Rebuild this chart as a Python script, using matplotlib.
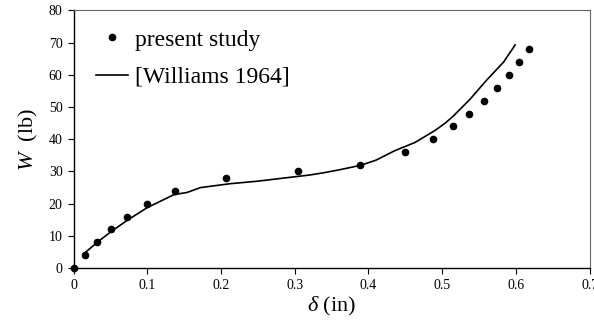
import matplotlib.pyplot as plt

plt.rcParams["font.family"] = ["Liberation Serif", "DejaVu Serif"]
plt.rcParams["mathtext.fontset"] = "custom"
plt.rcParams["mathtext.it"] = "Liberation Serif:italic"
plt.rcParams["mathtext.rm"] = "Liberation Serif"

# present study (points)
study_x = [0.0, 0.015, 0.032, 0.051, 0.073, 0.100, 0.138, 0.207, 0.304, 0.389,
           0.450, 0.487, 0.514, 0.537, 0.557, 0.574, 0.590, 0.604, 0.618]
study_w = [0, 4, 8, 12, 16, 20, 24, 28, 30, 32,
           36, 40, 44, 48, 52, 56, 60, 64, 68]

# Williams 1964 (line)
will_x = [0.014, 0.032, 0.050, 0.073, 0.100, 0.136, 0.154, 0.172, 0.212, 0.250,
          0.294, 0.320, 0.339, 0.360, 0.389, 0.410, 0.436, 0.463, 0.490, 0.504,
          0.515, 0.538, 0.560, 0.583, 0.599]
will_w = [4.5, 8.0, 11.2, 14.9, 18.8, 22.8, 23.5, 25.0, 26.2, 27.0,
          28.2, 28.9, 29.6, 30.5, 31.9, 33.5, 36.5, 39.0, 42.7, 45.0,
          47.2, 52.5, 58.3, 63.9, 69.3]

fig = plt.figure(figsize=(5.94, 3.23), dpi=100)
ax = fig.add_axes([0.124, 0.170, 0.8686, 0.7975])

ax.plot(study_x, study_w, "o", color="black", markersize=4.5,
        label="present study", clip_on=False, zorder=3)
ax.plot(will_x, will_w, "-", color="black", linewidth=1.2,
        label="[Williams 1964]")

ax.set_xlim(0, 0.7)
ax.set_ylim(0, 80)
ax.set_xticks([0, 0.1, 0.2, 0.3, 0.4, 0.5, 0.6, 0.7])
ax.set_xticklabels(["0", "0.1", "0.2", "0.3", "0.4", "0.5", "0.6", "0.7"])
ax.set_yticks(range(0, 81, 10))
ax.tick_params(direction="out", length=4, width=0.8, labelsize=10, pad=4)

for side in ["top", "right"]:
    ax.spines[side].set_color("#666666")
    ax.spines[side].set_linewidth(0.8)
for side in ["left", "bottom"]:
    ax.spines[side].set_color("black")
    ax.spines[side].set_linewidth(1.0)

ax.set_xlabel(r"$\delta$ (in)", fontsize=16, labelpad=2)
ax.set_ylabel(r"$W$  (lb)", fontsize=16, labelpad=6)

ax.legend(loc="upper left", bbox_to_anchor=(0.043, 0.928), frameon=False,
          fontsize=17, handlelength=1.36, handletextpad=0.3,
          labelspacing=0.67, borderpad=0, borderaxespad=0)

fig.savefig("out.png", dpi=100)
